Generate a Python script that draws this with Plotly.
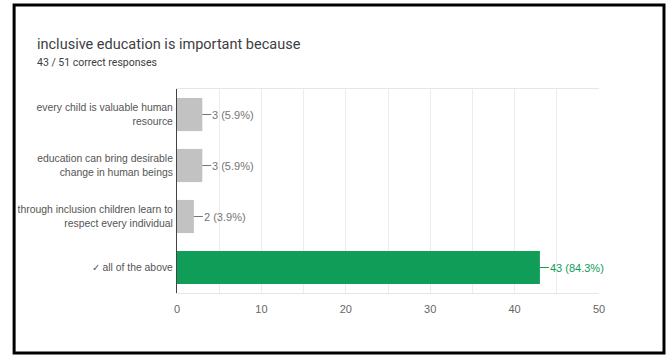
import plotly.graph_objects as go

# Survey results: responses per answer option
options = [
    "every child is valuable human<br>resource",
    "education can bring desirable<br>change in human beings",
    "through inclusion children learn to<br>respect every individual",
    "\u2713 all of the above",
]
counts = [3, 3, 2, 43]
percents = ["5.9%", "5.9%", "3.9%", "84.3%"]
correct = [False, False, False, True]

title_text = "inclusive education is important because"
subtitle_text = "43 / 51 correct responses"
x_ticks = [0, 10, 20, 30, 40, 50]

GREEN = "#0f9d58"
GRAY_BAR = "#c2c2c2"
LABEL_GRAY = "#757575"
FONT = "Liberation Sans, Arial, sans-serif"
TITLE_FONT = "Roboto, Arial, sans-serif"

bar_colors = [GREEN if c else GRAY_BAR for c in correct]

fig = go.Figure(
    go.Bar(
        x=counts,
        y=options,
        orientation="h",
        marker=dict(color=bar_colors, line=dict(width=0)),
        width=0.65,
        hoverinfo="skip",
    )
)

# value labels with a short leader line from the bar end
for opt, n, pct, ok in zip(options, counts, percents, correct):
    col = GREEN if ok else LABEL_GRAY
    fig.add_annotation(
        x=n, y=opt, xref="x", yref="y",
        text=f"{n} ({pct})",
        showarrow=True, arrowhead=0, arrowwidth=1, arrowcolor=col,
        ax=9, ay=0, xanchor="left", yanchor="middle",
        borderpad=0,
        font=dict(family=FONT, size=11, color=col),
    )

# title and subtitle
fig.add_annotation(
    x=-0.333, y=1.17, xref="paper", yref="paper",
    text=title_text, showarrow=False, xanchor="left", yanchor="bottom",
    borderpad=0,
    font=dict(family=TITLE_FONT, size=14.5, color="#3c4043"),
)
fig.add_annotation(
    x=-0.333, y=1.095, xref="paper", yref="paper",
    text=subtitle_text, showarrow=False, xanchor="left", yanchor="bottom",
    borderpad=0,
    font=dict(family=TITLE_FONT, size=10.5, color="#3c4043"),
)

# outer frame around the whole card
fig.add_shape(
    type="rect", xref="paper", yref="paper",
    x0=-0.386, x1=1.154, y0=-0.294, y1=1.412,
    line=dict(color="#000000", width=3), fillcolor="rgba(0,0,0,0)",
    layer="above",
)

fig.update_layout(
    width=672, height=356,
    margin=dict(l=177, r=73, t=89, b=63, autoexpand=False),
    paper_bgcolor="white", plot_bgcolor="white",
    showlegend=False,
    bargap=0.35,
    xaxis=dict(
        range=[0, 50], tickvals=x_ticks, showgrid=True,
        gridcolor="#ececec", gridwidth=1,
        minor=dict(dtick=5, showgrid=True, gridcolor="#ececec"),
        showline=True, linecolor="#e6e6e6", linewidth=1, mirror=True,
        zeroline=False, ticks="", ticklabelstandoff=6,
        tickfont=dict(family=FONT, size=11, color="#666666"),
        automargin=False, fixedrange=True,
    ),
    yaxis=dict(
        autorange="reversed", showgrid=False,
        showline=True, linecolor="#444444", linewidth=1,
        ticks="", ticklabelstandoff=1,
        tickfont=dict(family=FONT, size=10.4, color="#555555"),
        automargin=False, fixedrange=True,
    ),
)

fig.write_html("out.html")
